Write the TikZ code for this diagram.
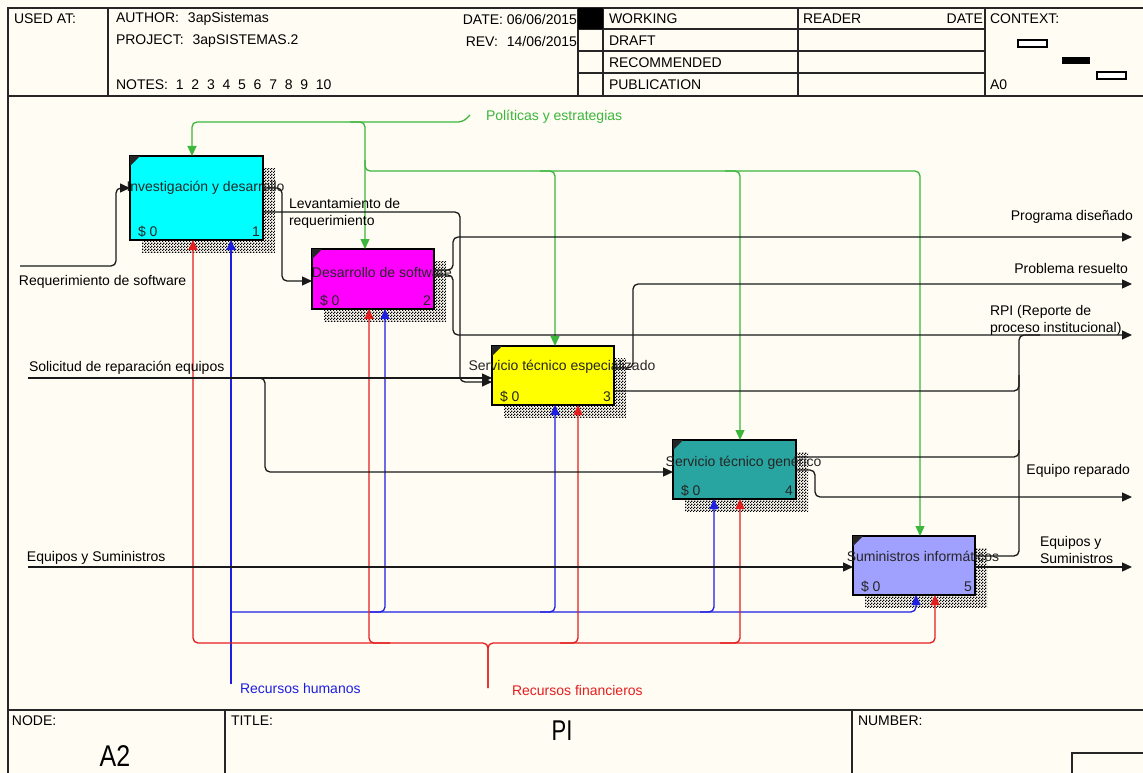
\documentclass[tikz,border=0pt]{standalone}
\usepackage{fontspec}
\setmainfont{Liberation Sans}
\usetikzlibrary{arrows.meta,patterns}
\definecolor{bg}{RGB}{254,252,243}
\definecolor{gr}{RGB}{60,182,60}
\definecolor{bl}{RGB}{30,30,225}
\definecolor{rd}{RGB}{228,30,30}
\definecolor{cyanbox}{RGB}{0,255,255}
\definecolor{magbox}{RGB}{255,0,255}
\definecolor{yelbox}{RGB}{255,255,0}
\definecolor{tealbox}{RGB}{40,165,160}
\definecolor{lavbox}{RGB}{160,160,255}
\pgfdeclarepatternformonly{chk}{\pgfqpoint{0pt}{0pt}}{\pgfqpoint{3pt}{3pt}}{\pgfqpoint{3pt}{3pt}}{%
  \pgfpathrectangle{\pgfqpoint{0pt}{0pt}}{\pgfqpoint{1.5pt}{1.5pt}}%
  \pgfpathrectangle{\pgfqpoint{1.5pt}{1.5pt}}{\pgfqpoint{1.5pt}{1.5pt}}%
  \pgfusepath{fill}}
\newcommand\IDbox[9]{%
  \fill[pattern=chk, pattern color=black] (#2+12,#3+12) rectangle (#2+#4+12,#3+#5+12);
  \node[fnbox, fill=#6, minimum width=#4pt, minimum height=#5pt] (#1) at (#2,#3) {};
  \fill[black!85] (#1.north west) -- ++(10,0) -- ++(-10,10) -- cycle;
  \node[anchor=base west, text=black!85] (#1c) at ([xshift=8pt,yshift=4pt]#1.south west) {\$ 0};
  \node[anchor=base east, text=black!85] (#1n) at ([xshift=-3pt,yshift=4pt]#1.south east) {#8};
  \node[text=black!85] (#1t) at (#2+#4/2+9,#3+#9) {#7};
}
\begin{document}
\begin{tikzpicture}[x=1pt,y=-1pt,
  every node/.style={inner sep=0pt, outer sep=0pt, font=\fontsize{14}{17}\selectfont},
  hdr/.style={line width=1.4pt, draw=black!85},
  fnbox/.style={draw=black, line width=2.6pt, anchor=north west, inner sep=0pt, outer sep=0pt},
  >={Triangle[length=10pt,width=9pt]},
  lnk/.style={line width=1.3pt, rounded corners=5pt},
  karr/.style={lnk, draw=black!90, ->},
  kln/.style={lnk, draw=black!90},
  garr/.style={lnk, draw=gr, ->},
  barr/.style={lnk, draw=bl, ->},
  rarr/.style={lnk, draw=rd, ->},
  ]
\useasboundingbox (0,0) rectangle (1143,773);
\fill[bg] (0,0) rectangle (1143,773);

% ---------- header ----------
\draw[hdr] (8,773) -- (8,8) -- (1143,8);
\draw[line width=1.8pt, draw=black!85] (8,96) -- (1143,96);
\foreach \x in {108,578,603,798,985} \draw[hdr] (\x,8) -- (\x,96);
\foreach \y in {29,51,73} \draw[hdr] (578,\y) -- (985,\y);
\fill (578,8) rectangle (603,29);
\node[anchor=west] (usedat) at (14,19) {USED AT:};
\node[anchor=west] (author) at (116,19) {AUTHOR:\hspace{9pt}3apSistemas};
\node[anchor=west] (project) at (116,41) {PROJECT:\hspace{9pt}3apSISTEMAS.2};
\node[anchor=west] (notes) at (116,85) {NOTES:\ \ 1\ \ 2\ \ 3\ \ 4\ \ 5\ \ 6\ \ 7\ \ 8\ \ 9\ \ 10};
\node[anchor=east] (date) at (577,19) {DATE: 06/06/2015};
\node[anchor=east] (rev) at (577,41) {REV:\hspace{9pt}14/06/2015};
\node[anchor=west] (working) at (609,19) {WORKING};
\node[anchor=west] (draft) at (609,41) {DRAFT};
\node[anchor=west] (recom) at (609,63) {RECOMMENDED};
\node[anchor=west] (publ) at (609,85) {PUBLICATION};
\node[anchor=west] (reader) at (803,19) {READER};
\node[anchor=east] (rdate) at (983,19) {DATE};
\node[anchor=west] (context) at (990,19) {CONTEXT:};
\node[anchor=west] (a0) at (990,85) {A0};
\draw[line width=1.2pt, fill=white] (1018,40) rectangle (1047,47);
\fill (1062,57) rectangle (1090,64);
\draw[line width=1.2pt, fill=white] (1097,72) rectangle (1126,79);

% ---------- footer ----------
\draw[line width=2pt, draw=black!85] (8,710) -- (1143,710);
\draw[hdr] (225,710) -- (225,773);
\draw[hdr] (852,710) -- (852,773);
\draw[hdr] (1072,773) -- (1072,753) -- (1143,753);
\node[anchor=west] (nodel) at (12,721) {NODE:};
\node[anchor=west] (titlel) at (231,721) {TITLE:};
\node[anchor=west] (numl) at (858,721) {NUMBER:};
\node (pi) at (562,731) {\scalebox{1}[1.3]{\fontsize{22}{22}\selectfont PI}};
\node (a2) at (115,756) {\scalebox{1}[1.2]{\fontsize{25}{25}\selectfont A2}};

% ---------- boxes ----------
\IDbox{b1}{130}{156}{133}{84}{cyanbox}{Investigación y desarrollo}{1}{32}
\IDbox{b2}{312}{249}{122}{60}{magbox}{Desarrollo de software}{2}{23}
\IDbox{b3}{492}{346}{122}{59}{yelbox}{Servicio técnico especializado}{3}{21}
\IDbox{b4}{673}{440}{123}{59}{tealbox}{Servicio técnico genérico}{4}{23}
\IDbox{b5}{853}{536}{122}{59}{lavbox}{Suministros informáticos}{5}{20}

% ---------- controls (green) ----------
\node[anchor=west, text=gr] (pol) at (486,117) {Políticas y estrategias};
\coordinate (polS) at (470,115);
\draw[garr] (polS) -- (463,122) -- (192,122) -- (192,0 |- b1.north);
\draw[garr] (350,122) -- (365,122) -- (365,0 |- b2.north);
\draw[garr] (365,160) -- (365,171) -- (555,171) -- (555,0 |- b3.north);
\draw[garr] (540,171) -- (740,171) -- (740,0 |- b4.north);
\draw[garr] (725,171) -- (920,171) -- (920,0 |- b5.north);

% ---------- mechanisms (blue) ----------
\node[anchor=west, text=bl] (rh) at (240,688) {Recursos humanos};
\coordinate (rhS) at (231,684);
\draw[barr] (rhS) -- (231,0 |- b1.south);
\draw[barr] (231,612) -- (385,612) -- (385,0 |- b2.south);
\draw[barr] (370,612) -- (555,612) -- (555,0 |- b3.south);
\draw[barr] (540,612) -- (714,612) -- (714,0 |- b4.south);
\draw[barr] (700,612) -- (916,612) -- (916,0 |- b5.south);

% ---------- mechanisms (red) ----------
\node[anchor=west, text=rd] (rf) at (512,690) {Recursos financieros};
\coordinate (rfS) at (488,688);
\draw[rarr] (rfS) -- (488,643) -- (193,643) -- (193,0 |- b1.south);
\draw[rarr] (rfS) -- (488,643) -- (935,643) -- (935,0 |- b5.south);
\draw[rarr] (390,643) -- (369,643) -- (369,0 |- b2.south);
\draw[rarr] (560,643) -- (578,643) -- (578,0 |- b3.south);
\draw[rarr] (720,643) -- (740,643) -- (740,0 |- b4.south);

% ---------- inputs ----------
\node[anchor=west] (rs) at (19,282) {Requerimiento de software};
\coordinate (rsS) at (20,266);
\draw[karr] (rsS) -- (116,266) -- (116,188) -- (b1.west |- 0,188);
\node[anchor=west] (sr) at (29,368) {Solicitud de reparación equipos};
\coordinate (srS) at (28,378);
\draw[karr] (srS) -- (b3.west |- 0,378);
\draw[karr] (250,378) -- (265,378) -- (265,472) -- (b4.west |- 0,472);
\node[anchor=west] (es) at (27,558) {Equipos y Suministros};
\coordinate (esS) at (28,567);
\draw[karr] (esS) -- (b5.west |- 0,567);

% ---------- box 1 outputs ----------
\draw[karr] (b1.east |- 0,188) -- (282,188) -- (282,281) -- (b2.west |- 0,281);
\node[anchor=west, align=left] (lr) at (289,213) {Levantamiento de\\requerimiento};
\draw[karr] (b1.east |- 0,212) -- (460,212) -- (460,382) -- (b3.west |- 0,382);

% ---------- outputs to the right ----------
\coordinate (pdE) at (1132,237);
\coordinate (prE) at (1132,284);
\coordinate (rpiE) at (1132,335);
\coordinate (erE) at (1132,497);
\coordinate (esE) at (1132,567);
\node[anchor=east] (pdt) at (1133,217) {Programa diseñado};
\node[anchor=east] (prt) at (1128,268) {Problema resuelto};
\node[anchor=west, align=left] (rpit) at (990,320) {RPI (Reporte de\\proceso institucional)};
\node[anchor=east] (ert) at (1130,471) {Equipo reparado};
\node[anchor=west, align=left] (est) at (1040,550) {Equipos y\\Suministros};

\draw[karr] (b2.east |- 0,270) -- (453,270) -- (453,237) -- (pdE);
\draw[karr] (b2.east |- 0,275) -- (453,275) -- (453,335) -- (rpiE);
\draw[karr] (b3.east |- 0,368) -- (633,368) -- (633,284) -- (prE);
\draw[kln] (b3.east |- 0,391) -- (1019,391) -- (1019,335) -- (1040,335);
\draw[kln] (b4.east |- 0,457) -- (1019,457) -- (1019,375);
\draw[karr] (b4.east |- 0,470) -- (815,470) -- (815,497) -- (erE);
\draw[kln] (b5.east |- 0,556) -- (1019,556) -- (1019,440);
\draw[karr] (b5.east |- 0,567) -- (esE);
\end{tikzpicture}
\end{document}
